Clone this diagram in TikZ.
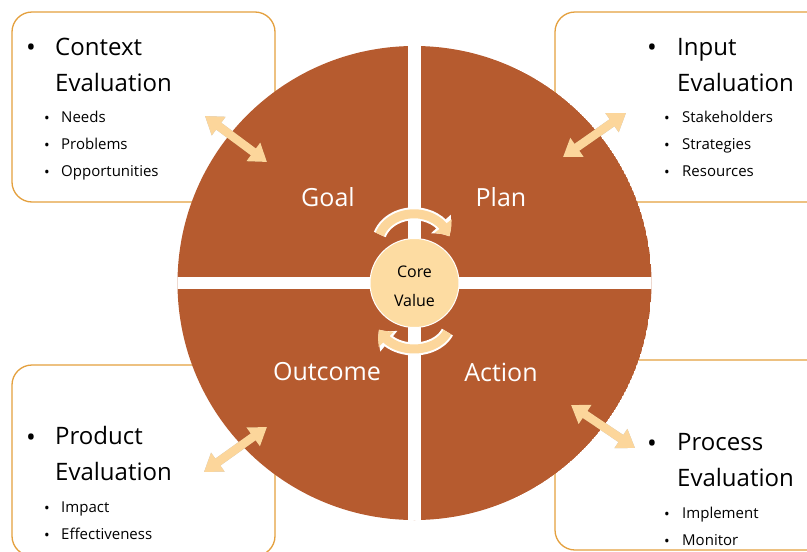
\documentclass[tikz,border=0pt]{standalone}
\usepackage{fontspec}
\setmainfont{Open Sans}
\usetikzlibrary{arrows.meta,bending}
\definecolor{pieBrown}{RGB}{182,91,47}
\definecolor{boxOrange}{RGB}{228,160,62}
\definecolor{peach}{RGB}{252,214,155}
\definecolor{corePeach}{RGB}{253,220,162}
\begin{document}
\begin{tikzpicture}[x=1pt,y=-1pt,
  evalbox/.style={draw=boxOrange, line width=1.3pt, rounded corners=20pt, fill=white},
  headtxt/.style={font=\fontsize{24}{28}\selectfont, anchor=base west, inner sep=0pt},
  itemtxt/.style={font=\fontsize{15}{18}\selectfont, anchor=base west, inner sep=0pt},
  bigdot/.style={font=\fontsize{26}{28}\selectfont, inner sep=0pt},
  smalldot/.style={font=\fontsize{15}{18}\selectfont, inner sep=0pt},
  quadtxt/.style={text=white, font=\fontsize{25}{30}\selectfont, inner sep=0pt},
  coretxt/.style={font=\fontsize{16}{29}\selectfont, align=center, inner sep=0pt},
  dblarrow/.style={line width=8.5pt, draw=peach, {Triangle[width=22pt,length=17pt]}-{Triangle[width=22pt,length=17pt]}},
  dblshadow/.style={line width=8.5pt, draw=black!70, {Triangle[width=22pt,length=17pt]}-{Triangle[width=22pt,length=17pt]}},
  cycwhite/.style={line width=13pt, draw=white, -{Triangle[width=26pt,length=15pt,bend]}},
  cycpeach/.style={line width=9pt, draw=peach, -{Triangle[width=21pt,length=12pt,bend]}}
]
\useasboundingbox (0,0) rectangle (807,552);
\clip (0,0) rectangle (807,552);

% evaluation boxes
\draw[evalbox] (12,12) rectangle (275,202);
\draw[evalbox] (555,12) rectangle (830,202);
\draw[evalbox] (12,365) rectangle (275,556);
\draw[evalbox] (555,360) rectangle (830,550);

% pie
\begin{scope}
  \clip (414.5,283) circle (237);
  \fill[pieBrown] (414.5,283) circle (237);
  \fill[white] (408.3,40) rectangle (420.7,530);
  \fill[white] (170,276.7) rectangle (660,289.3);
\end{scope}

% quadrant labels
\node[quadtxt] (goal) at (328,197) {Goal};
\node[quadtxt] (plan) at (501,197) {Plan};
\node[quadtxt] (outcome) at (327,372) {Outcome};
\node[quadtxt] (action) at (501,372) {Action};

% cycle arrows
\coordinate (topStart) at (379.8,234.5);
\coordinate (botStart) at (447.4,332.1);
\draw[cycwhite] (topStart) arc[start angle=198, end angle=346, x radius=36, y radius=30];
\draw[cycpeach] (topStart) arc[start angle=198, end angle=346, x radius=36, y radius=30];
\draw[cycwhite] (botStart) arc[start angle=22, end angle=164, x radius=36, y radius=27];
\draw[cycpeach] (botStart) arc[start angle=22, end angle=164, x radius=36, y radius=27];

% core
\node[circle, fill=corePeach, draw=white, line width=1pt, minimum size=89pt, inner sep=0pt] (core) at (414.5,283) {};
\node[coretxt] (coretext) at (414.5,286) {Core\\Value};

% double arrows
\coordinate (c1) at (205,116);  \coordinate (c2) at (267,162);
\coordinate (i1) at (626,113);  \coordinate (i2) at (563,157);
\coordinate (p1) at (267,427);  \coordinate (p2) at (204,472);
\coordinate (r1) at (571,405);  \coordinate (r2) at (635,448);
\begin{scope}[transparency group, opacity=0.18, shift={(3,4)}]
  \draw[dblshadow] (c1) -- (c2);
  \draw[dblshadow] (i1) -- (i2);
  \draw[dblshadow] (p1) -- (p2);
  \draw[dblshadow] (r1) -- (r2);
\end{scope}
\begin{scope}[transparency group, opacity=0.2, shift={(2,3)}]
  \draw[dblshadow] (c1) -- (c2);
  \draw[dblshadow] (i1) -- (i2);
  \draw[dblshadow] (p1) -- (p2);
  \draw[dblshadow] (r1) -- (r2);
\end{scope}
\draw[dblarrow] (c1) -- (c2);
\draw[dblarrow] (i1) -- (i2);
\draw[dblarrow] (p1) -- (p2);
\draw[dblarrow] (r1) -- (r2);

% Context
\node[bigdot] (cb) at (31,50) {\textbullet};
\node[headtxt] (ct1) at (55,55) {Context};
\node[headtxt] (ct2) at (55,91) {Evaluation};
\node[smalldot] (cb1) at (47,120) {\textbullet};
\node[smalldot] (cb2) at (47,147) {\textbullet};
\node[smalldot] (cb3) at (47,174) {\textbullet};
\node[itemtxt] (ci1) at (61,122) {Needs};
\node[itemtxt] (ci2) at (61,149) {Problems};
\node[itemtxt] (ci3) at (61,176) {Opportunities};

% Input
\node[bigdot] (ib) at (652,50) {\textbullet};
\node[headtxt] (it1) at (677,55) {Input};
\node[headtxt] (it2) at (677,91) {Evaluation};
\node[smalldot] (ib1) at (667,120) {\textbullet};
\node[smalldot] (ib2) at (667,147) {\textbullet};
\node[smalldot] (ib3) at (667,174) {\textbullet};
\node[itemtxt] (ii1) at (682,122) {Stakeholders};
\node[itemtxt] (ii2) at (682,149) {Strategies};
\node[itemtxt] (ii3) at (682,176) {Resources};

% Product
\node[bigdot] (pb) at (31,440) {\textbullet};
\node[headtxt] (pt1) at (55,444) {Product};
\node[headtxt] (pt2) at (55,480) {Evaluation};
\node[smalldot] (pb1) at (47,510) {\textbullet};
\node[smalldot] (pb2) at (47,537) {\textbullet};
\node[itemtxt] (pi1) at (61,512) {Impact};
\node[itemtxt] (pi2) at (61,539) {Effectiveness};

% Process
\node[bigdot] (rb) at (652,446) {\textbullet};
\node[headtxt] (rt1) at (677,450) {Process};
\node[headtxt] (rt2) at (677,486) {Evaluation};
\node[smalldot] (rb1) at (667,516) {\textbullet};
\node[smalldot] (rb2) at (667,543) {\textbullet};
\node[itemtxt] (ri1) at (682,518) {Implement};
\node[itemtxt] (ri2) at (682,545) {Monitor};
\end{tikzpicture}
\end{document}
